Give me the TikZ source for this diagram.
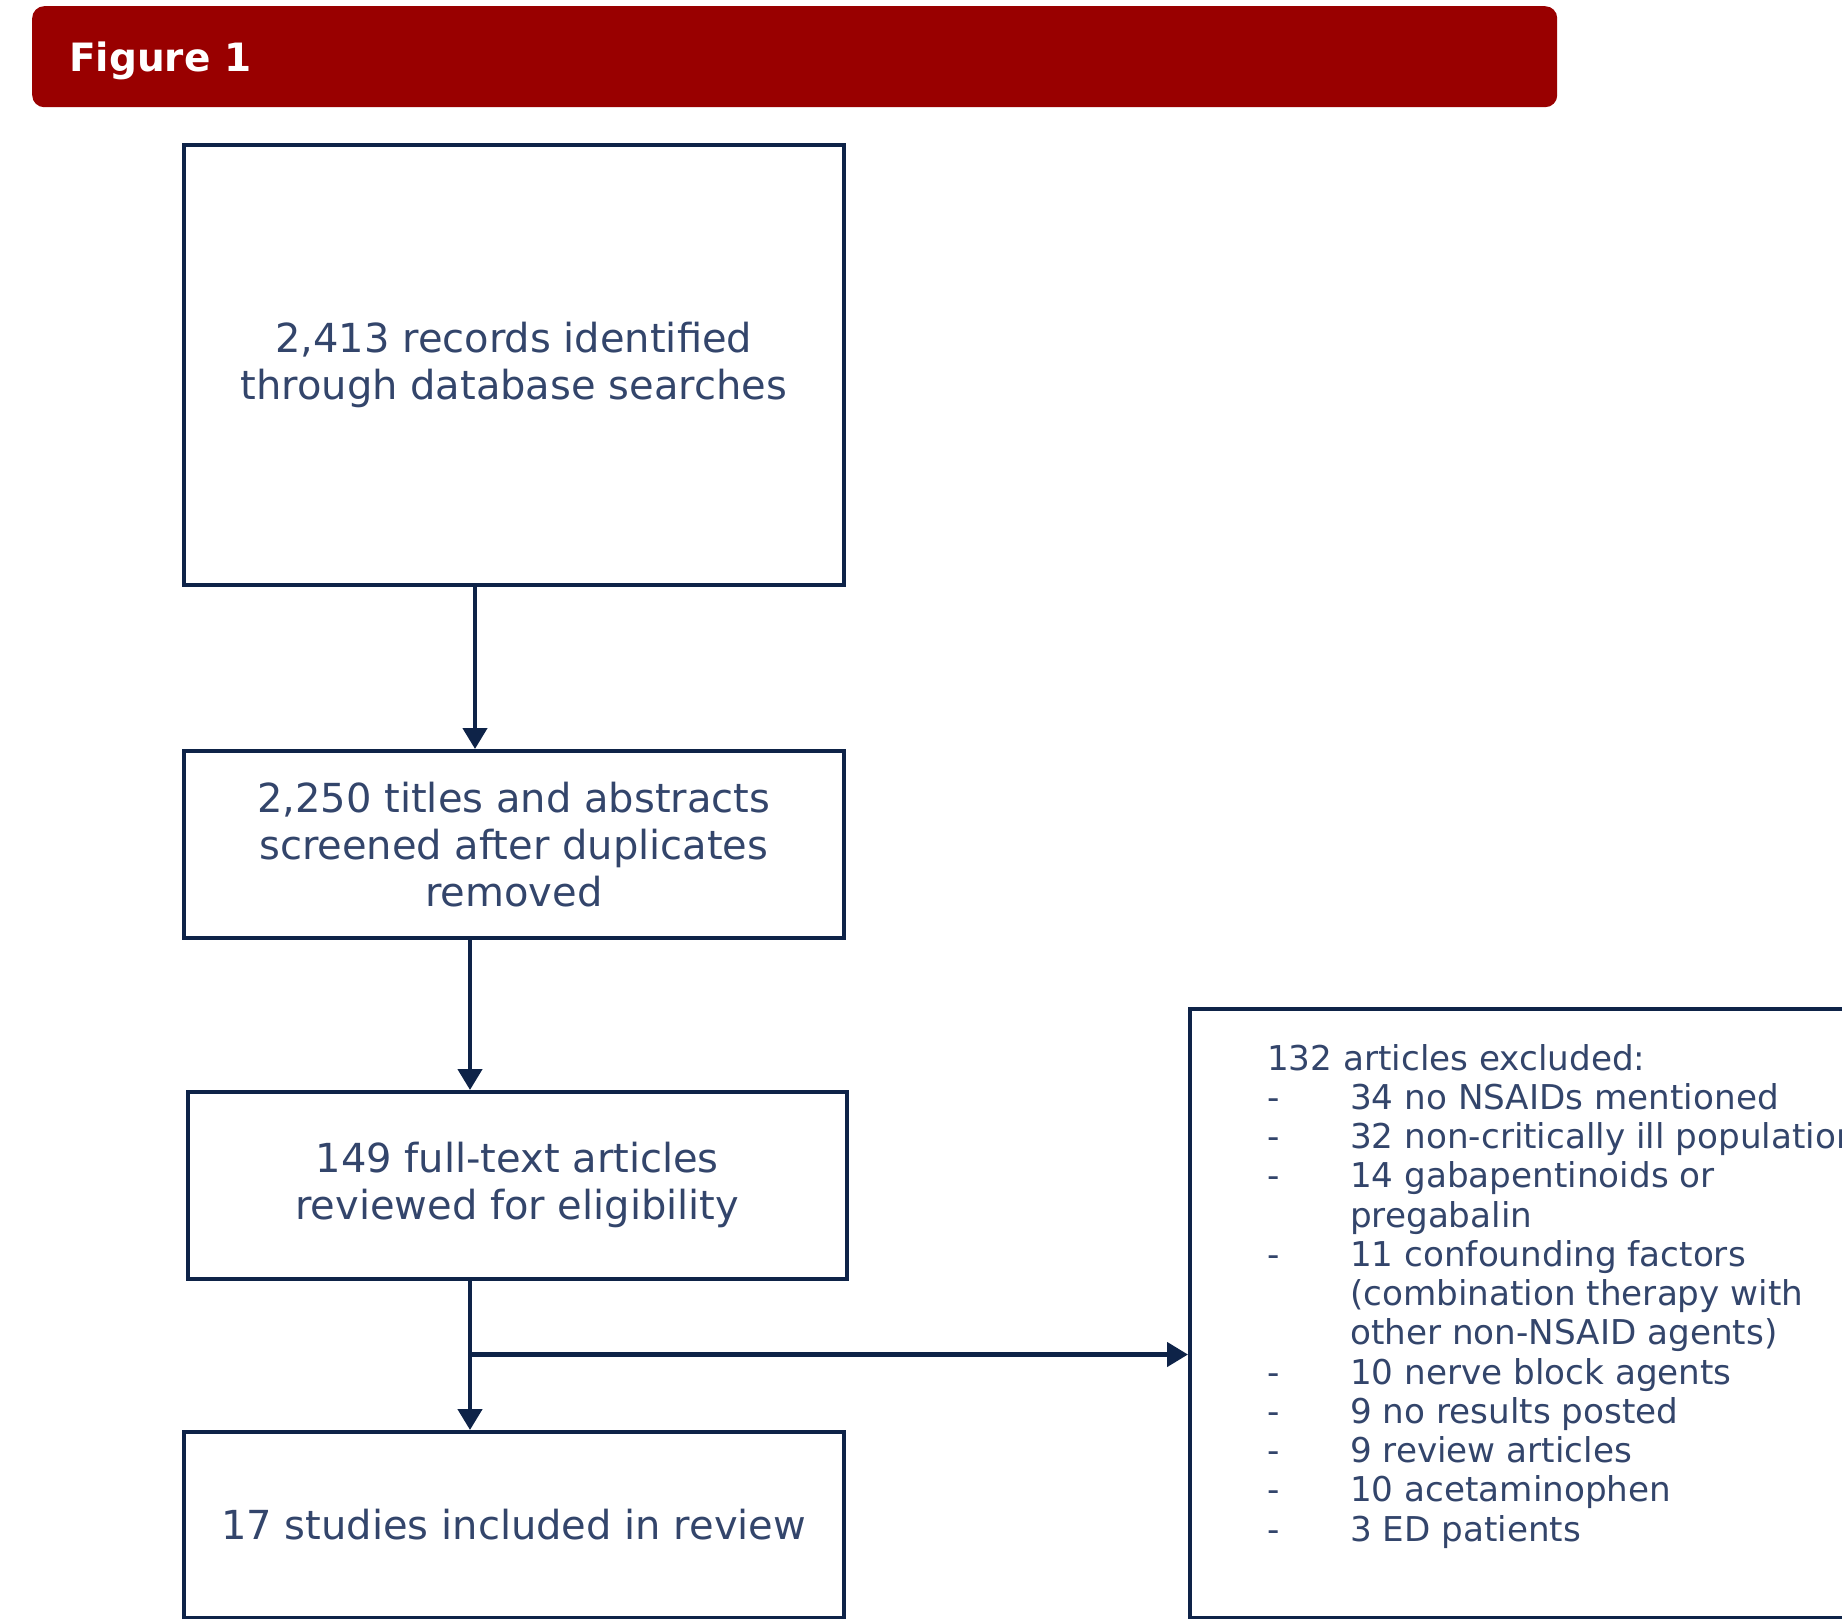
\documentclass[tikz,border=0pt]{standalone}
\usepackage{fontspec}
\setmainfont{DejaVu Sans}
\usetikzlibrary{calc,arrows.meta}
\definecolor{navy}{HTML}{0E2348}
\definecolor{txt}{HTML}{33456B}
\definecolor{banner}{HTML}{990000}
\begin{document}
\begin{tikzpicture}[x=1pt,y=-1pt,
  box/.style={draw=navy,line width=3.5pt,fill=white,inner sep=0pt,text=txt,align=center,
    font=\fontsize{40}{47}\selectfont,anchor=north west},
  arr/.style={draw=navy,line width=4.5pt,-{Triangle[length=21pt,width=24pt]}},
]
\useasboundingbox (0,0) rectangle (1842,1619);
\node[fill=banner,rounded corners=12pt,minimum width=1525pt,minimum height=101pt,
  anchor=north west,inner sep=0pt] (ban) at (32,6) {};
\node[anchor=base west,text=white,inner sep=0pt,
  font=\fontsize{39}{47}\bfseries\selectfont] (fig) at (69,71) {Figure 1};

\node[box,minimum width=660pt,minimum height=440pt] (b1) at (182,143)
  {2,413 records identified\\through database searches};
\node[box,minimum width=660pt,minimum height=187pt] (b2) at (182,749)
  {2,250 titles and abstracts\\screened after duplicates\\removed};
\node[box,minimum width=659pt,minimum height=187pt] (b3) at (186,1090)
  {149 full-text articles\\reviewed for eligibility};
\node[box,minimum width=660pt,minimum height=186pt] (b4) at (182,1430)
  {17 studies included in review};
\node[box,minimum width=800pt,minimum height=609pt] (b5) at (1188,1007) {};

\node[anchor=base west,inner sep=0pt,text=txt,font=\fontsize{34.2}{39.25}\selectfont] (ex) at (1267,1070)
{\begin{tabular}[t]{@{}p{83pt}@{}l@{}}
\multicolumn{2}{@{}l@{}}{132 articles excluded:}\\
- & 34 no NSAIDs mentioned\\
- & 32 non-critically ill population\\
- & 14 gabapentinoids or\\
  & pregabalin\\
- & 11 confounding factors\\
  & (combination therapy with\\
  & other non-NSAID agents)\\
- & 10 nerve block agents\\
- & 9 no results posted\\
- & 9 review articles\\
- & 10 acetaminophen\\
- & 3 ED patients
\end{tabular}};

\draw[arr] ([xshift=293pt]b1.south west) -- ([xshift=293pt]b1.south west |- b2.north);
\draw[arr] ([xshift=288pt]b2.south west) -- ([xshift=288pt]b2.south west |- b3.north);
\draw[arr] ([xshift=284pt]b3.south west) -- ([xshift=284pt]b3.south west |- b4.north);
\coordinate (br) at ($([xshift=284pt]b3.south west)+(0,74)$);
\draw[arr] (br) -- (br -| b5.west);
\end{tikzpicture}
\end{document}
